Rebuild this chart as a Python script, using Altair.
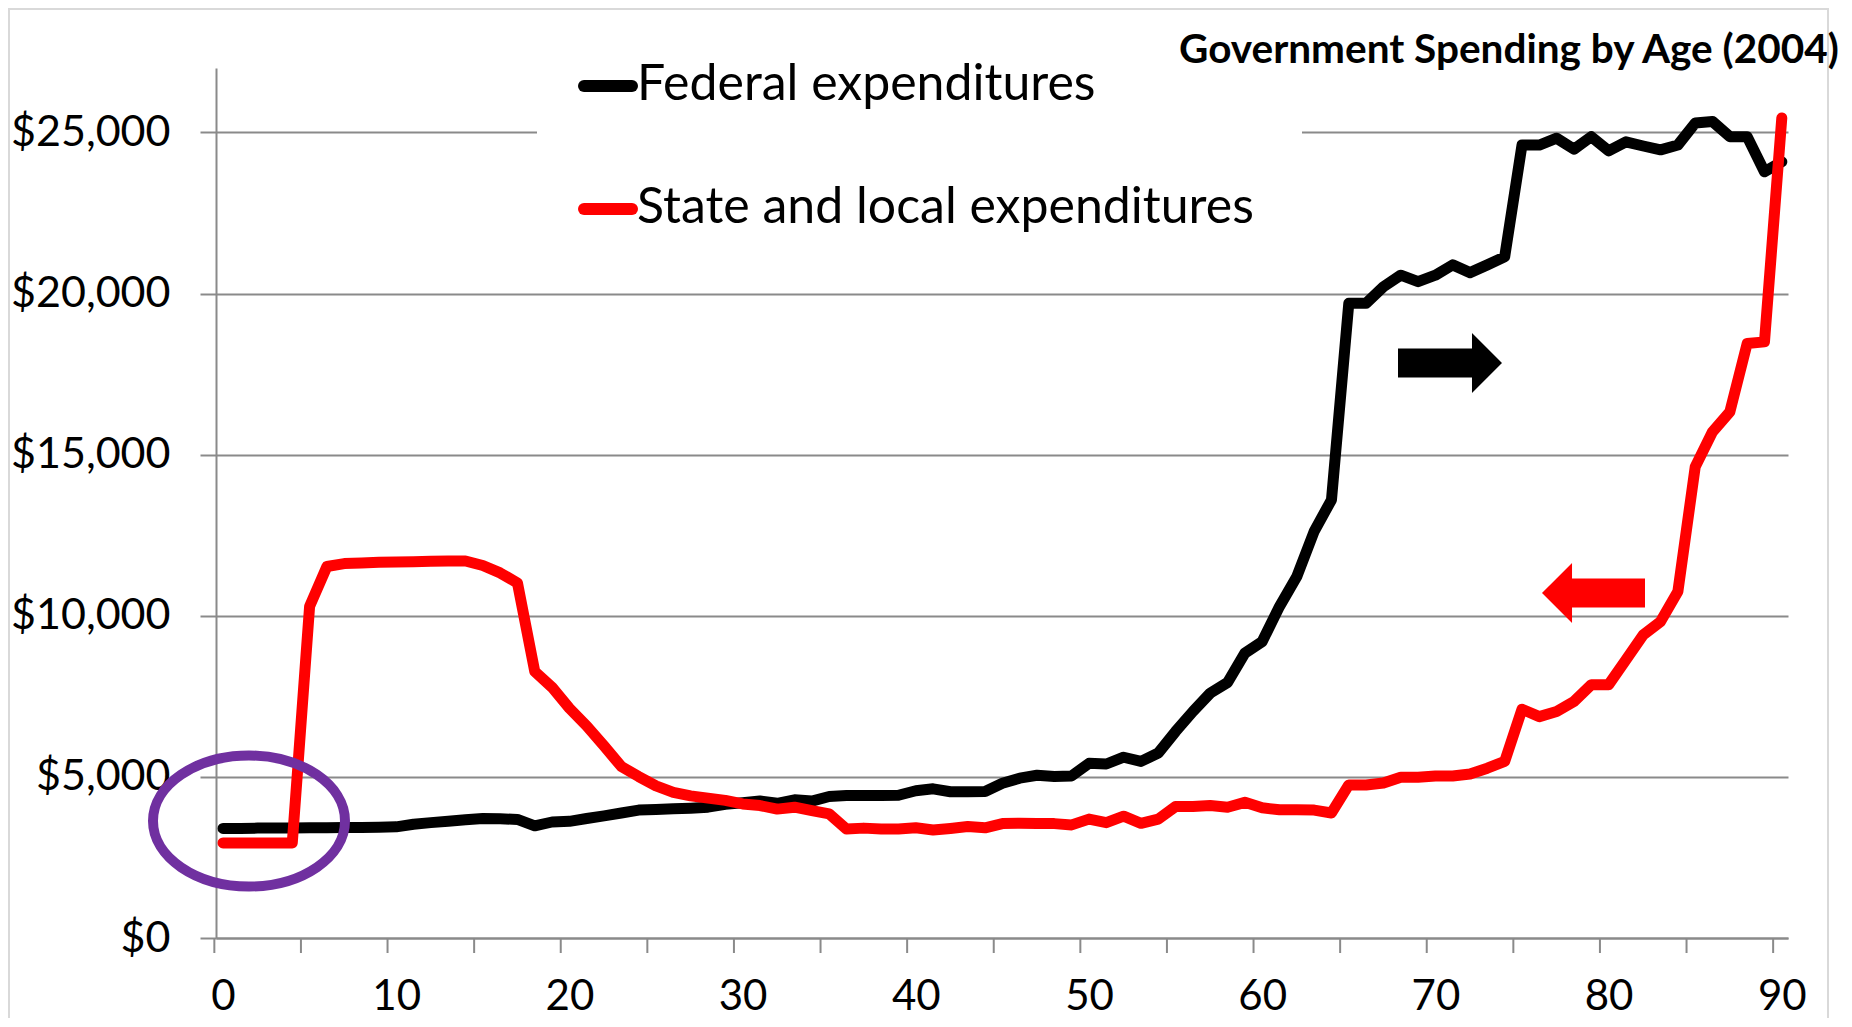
import altair as alt
import pandas as pd

# ---------------- data ----------------
ages = list(range(91))

federal = [
    3400, 3400, 3410, 3410, 3410, 3420, 3420, 3430, 3430, 3440,
    3450, 3530, 3580, 3620, 3670, 3710, 3700, 3680, 3480, 3600,
    3620, 3710, 3790, 3880, 3970, 3990, 4010, 4030, 4060, 4150,
    4200, 4250, 4180, 4290, 4250, 4390, 4420, 4420, 4420, 4430,
    4570, 4630, 4540, 4540, 4550, 4800, 4960, 5050, 5010, 5030,
    5420, 5400, 5610, 5480, 5740, 6410, 7030, 7600, 7930, 8840,
    9200, 10290, 11220, 12620, 13600, 19700, 19700, 20210, 20570, 20370,
    20570, 20890, 20650, 20890, 21140, 24610, 24610, 24820, 24480, 24870,
    24430, 24710, 24580, 24460, 24610, 25290, 25340, 24870, 24870, 23780,
    24090,
]

state = [
    2950, 2950, 2950, 2950, 2950, 10290, 11530, 11620, 11640, 11660,
    11670, 11680, 11690, 11700, 11700, 11560, 11330, 11020, 8270, 7780,
    7130, 6580, 5960, 5320, 5010, 4720, 4520, 4410, 4340, 4270,
    4160, 4110, 4000, 4060, 3950, 3850, 3380, 3410, 3380, 3380,
    3420, 3350, 3400, 3460, 3420, 3550, 3560, 3550, 3550, 3510,
    3690, 3580, 3780, 3560, 3690, 4080, 4080, 4110, 4060, 4210,
    4040, 3980, 3980, 3970, 3880, 4750, 4750, 4810, 4990, 4990,
    5030, 5030, 5090, 5270, 5480, 7100, 6870, 7030, 7340, 7860,
    7860, 8630, 9410, 9820, 10750, 14620, 15710, 16330, 18450, 18500,
    25450,
]

series_names = ["Federal expenditures", "State and local expenditures"]
y_tick_values = [0, 5000, 10000, 15000, 20000, 25000]
x_label_values = [0, 10, 20, 30, 40, 50, 60, 70, 80, 90]
x_tick_marks = [-0.5 + 5 * k for k in range(19)]
title_text = "Government Spending by Age (2004)"

# ---------------- layout (pixels) ----------------
L, T = 216, 68           # plot origin on the page
W, H = 1572, 870         # plot size
X0, DX = 223.0, 17.32    # page x of age 0, pixels per year
x_domain = [(L - X0) / DX, (L + W - X0) / DX]
SVG_W, SVG_H = 1836, 1010

GRID = "#8a8a8a"
FONT = "Lato"

df_f = pd.DataFrame({"age": ages, "value": federal, "series": series_names[0]})
df_s = pd.DataFrame({"age": ages, "value": state, "series": series_names[1]})
one = pd.DataFrame({"k": [0]})

xs = alt.Scale(domain=x_domain, nice=False, zero=False)
ys = alt.Scale(domain=[0, 27000], nice=False, zero=True)

x_axis = alt.Axis(values=x_label_values, format="d", grid=False, tickSize=0,
                  labelPadding=38, labelFont=FONT, labelFontSize=42,
                  labelColor="black", domainColor=GRID, domainWidth=2,
                  title=None, labelFlush=False)
y_axis = alt.Axis(values=y_tick_values, format="$,.0f", grid=True,
                  gridColor=GRID, gridWidth=2, tickColor=GRID, tickWidth=2,
                  tickSize=16, labelPadding=30, labelFont=FONT,
                  labelFontSize=43, labelColor="black", domainColor=GRID,
                  domainWidth=2, title=None)

fed_line = alt.Chart(df_f).mark_line(
    color="black", strokeWidth=11, strokeJoin="round", strokeCap="round"
).encode(
    x=alt.X("age:Q", scale=xs, axis=x_axis),
    y=alt.Y("value:Q", scale=ys, axis=y_axis),
)

state_line = alt.Chart(df_s).mark_line(
    color="#ff0000", strokeWidth=11, strokeJoin="round", strokeCap="round"
).encode(
    x=alt.X("age:Q", scale=xs),
    y=alt.Y("value:Q", scale=ys),
)

ticks = alt.Chart(pd.DataFrame({"t": x_tick_marks})).mark_rule(
    color=GRID, strokeWidth=2
).encode(
    x=alt.X("t:Q", scale=xs),
    y=alt.value(H),
    y2=alt.value(H + 15),
)

def px(v):
    return alt.value(v - L)

def py(v):
    return alt.value(v - T)

# chart border
border = alt.Chart(one).mark_rect(filled=False, stroke="#d9d9d9", strokeWidth=2).encode(
    x=px(9), x2=px(1828), y=py(9), y2=py(1040)
)

# legend box (white, covers gridline)
legend_box = alt.Chart(one).mark_rect(color="white").encode(
    x=px(537), x2=px(1302), y=py(40), y2=py(250)
)
leg_black = alt.Chart(one).mark_rule(color="black", strokeWidth=12, strokeCap="round").encode(
    x=px(584), x2=px(632), y=py(86)
)
leg_red = alt.Chart(one).mark_rule(color="#ff0000", strokeWidth=12, strokeCap="round").encode(
    x=px(584), x2=px(632), y=py(209)
)
leg_text1 = alt.Chart(one).mark_text(
    text=series_names[0], align="left", baseline="middle", font=FONT, fontSize=50, color="black"
).encode(x=px(637), y=py(85))
leg_text2 = alt.Chart(one).mark_text(
    text=series_names[1], align="left", baseline="middle", font=FONT, fontSize=50, color="black"
).encode(x=px(637), y=py(208))

title = alt.Chart(one).mark_text(
    text=title_text, align="left", baseline="alphabetic", font=FONT, fontSize=40.5,
    fontWeight="bold", color="black"
).encode(x=px(1179), y=py(63))

# arrows
right_arrow_path = "M-1,-0.279 L0.423,-0.279 L0.423,-0.577 L1,0 L0.423,0.577 L0.423,0.279 L-1,0.279 Z"
left_arrow_path = "M1,-0.282 L-0.417,-0.282 L-0.417,-0.583 L-1,0 L-0.417,0.583 L-0.417,0.282 L1,0.282 Z"
black_arrow = alt.Chart(one).mark_point(
    shape=right_arrow_path, filled=True, color="black", opacity=1, size=104 * 104
).encode(x=px(1450), y=py(363))
red_arrow = alt.Chart(one).mark_point(
    shape=left_arrow_path, filled=True, color="#ff0000", opacity=1, size=103 * 103
).encode(x=px(1593.5), y=py(593))

# ellipse
ellipse_path = "M-1,0 A1,0.682 0 1,1 1,0 A1,0.682 0 1,1 -1,0 Z"
ellipse = alt.Chart(one).mark_point(
    shape=ellipse_path, filled=False, color="#7030a0", strokeWidth=10, opacity=1, size=192 * 192
).encode(x=px(249), y=py(821))

chart = alt.layer(
    border, fed_line, state_line, ticks, legend_box, leg_black, leg_red,
    leg_text1, leg_text2, title, black_arrow, red_arrow, ellipse
).properties(
    width=W, height=H,
    autosize=alt.AutoSizeParams(type="none"),
    padding={"left": L - 8, "top": T - 8, "right": SVG_W - (L - 8) - W,
             "bottom": SVG_H - (T - 8) - H},
    background="white",
).configure_view(stroke=None)

chart.save("out.html", embed_options={"renderer": "svg", "actions": False})
